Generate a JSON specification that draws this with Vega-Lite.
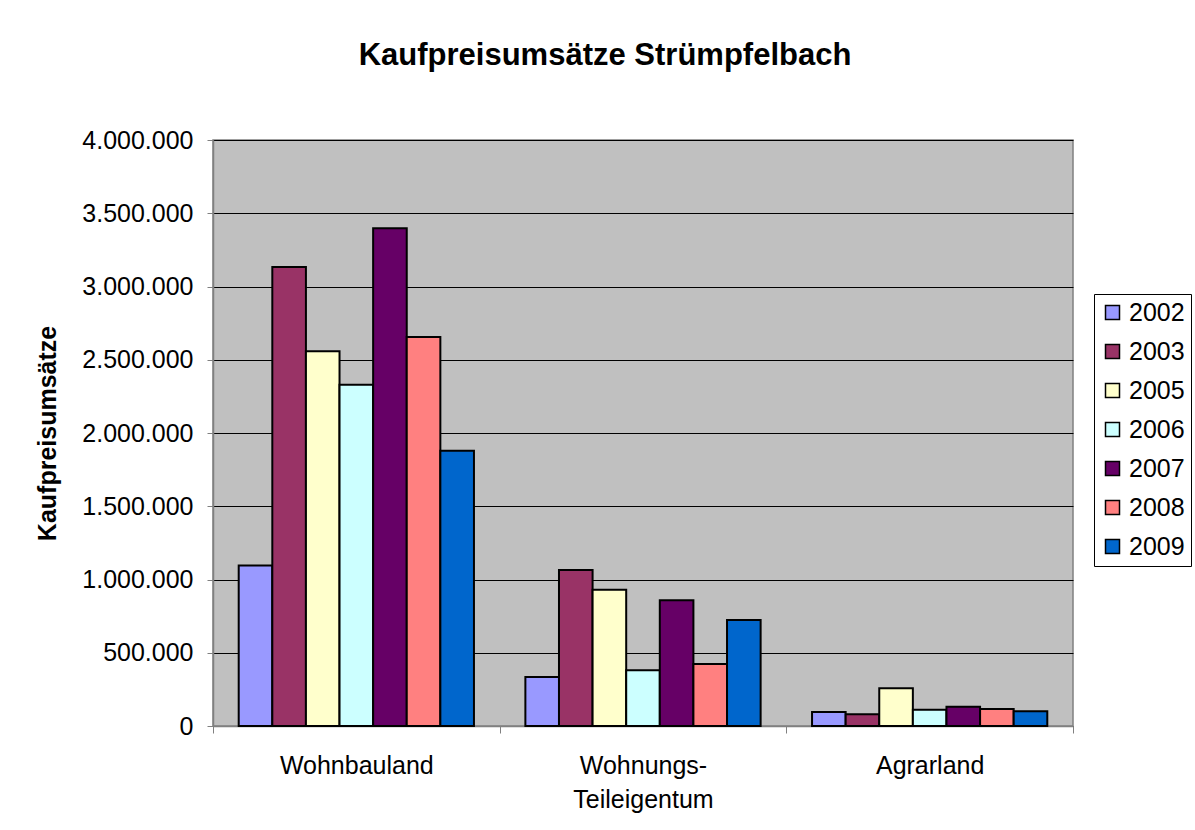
{
  "$schema": "https://vega.github.io/schema/vega-lite/v6.json",
  "autosize": "none",
  "width": 860,
  "height": 586,
  "padding": {"left": 213, "top": 140, "right": 122, "bottom": 104},
  "background": "white",
  "title": {
    "text": "Kaufpreisumsätze Strümpfelbach",
    "font": "Liberation Sans",
    "fontSize": 31,
    "fontWeight": "bold",
    "color": "black",
    "anchor": "middle",
    "frame": "group",
    "dx": -38,
    "baseline": "alphabetic",
    "offset": 32
  },
  "data": {
    "values": [
      {"category": "Wohnbauland", "year": "2002", "value": 1095000},
      {"category": "Wohnbauland", "year": "2003", "value": 3133000},
      {"category": "Wohnbauland", "year": "2005", "value": 2558000},
      {"category": "Wohnbauland", "year": "2006", "value": 2330000},
      {"category": "Wohnbauland", "year": "2007", "value": 3397000},
      {"category": "Wohnbauland", "year": "2008", "value": 2655000},
      {"category": "Wohnbauland", "year": "2009", "value": 1879000},
      {"category": "Wohnungs-Teileigentum", "year": "2002", "value": 334000},
      {"category": "Wohnungs-Teileigentum", "year": "2003", "value": 1065000},
      {"category": "Wohnungs-Teileigentum", "year": "2005", "value": 930000},
      {"category": "Wohnungs-Teileigentum", "year": "2006", "value": 380000},
      {"category": "Wohnungs-Teileigentum", "year": "2007", "value": 858000},
      {"category": "Wohnungs-Teileigentum", "year": "2008", "value": 423000},
      {"category": "Wohnungs-Teileigentum", "year": "2009", "value": 724000},
      {"category": "Agrarland", "year": "2002", "value": 96000},
      {"category": "Agrarland", "year": "2003", "value": 80000},
      {"category": "Agrarland", "year": "2005", "value": 257000},
      {"category": "Agrarland", "year": "2006", "value": 111000},
      {"category": "Agrarland", "year": "2007", "value": 132000},
      {"category": "Agrarland", "year": "2008", "value": 116000},
      {"category": "Agrarland", "year": "2009", "value": 100000}
    ]
  },
  "mark": {"type": "bar", "stroke": "black", "strokeWidth": 2},
  "encoding": {
    "x": {
      "field": "category",
      "type": "nominal",
      "sort": ["Wohnbauland", "Wohnungs-Teileigentum", "Agrarland"],
      "scale": {"paddingInner": 0, "paddingOuter": 0},
      "axis": {
        "title": null,
        "labelAngle": 0,
        "labelFont": "Liberation Sans",
        "labelFontSize": 25,
        "labelColor": "black",
        "labelLineHeight": 34,
        "labelBaseline": "top",
        "labelPadding": 20,
        "labelExpr": "datum.value == 'Wohnungs-Teileigentum' ? ['Wohnungs-', 'Teileigentum'] : datum.label",
        "tickBand": "extent",
        "tickSize": 7,
        "tickColor": "#808080",
        "domainColor": "#808080",
        "domainWidth": 1.5
      }
    },
    "xOffset": {
      "field": "year",
      "type": "nominal",
      "scale": {"paddingInner": 0, "paddingOuter": 0.765}
    },
    "y": {
      "field": "value",
      "type": "quantitative",
      "scale": {"domain": [0, 4000000], "nice": false},
      "axis": {
        "title": "Kaufpreisumsätze",
        "titleFont": "Liberation Sans",
        "titleFontSize": 25,
        "titleFontWeight": "bold",
        "titleColor": "black",
        "titleAngle": -90,
        "titleX": -166,
        "titleY": 293,
        "titleAlign": "center",
        "titleBaseline": "middle",
        "values": [0, 500000, 1000000, 1500000, 2000000, 2500000, 3000000, 3500000, 4000000],
        "format": ",d",
        "labelFont": "Liberation Sans",
        "labelFontSize": 25,
        "labelColor": "black",
        "labelPadding": 14,
        "tickSize": 6,
        "tickColor": "#808080",
        "domainColor": "#808080",
        "domainWidth": 1.5,
        "grid": true,
        "gridColor": "black",
        "gridOpacity": 1,
        "gridWidth": 1
      }
    },
    "color": {
      "field": "year",
      "type": "nominal",
      "scale": {
        "domain": ["2002", "2003", "2005", "2006", "2007", "2008", "2009"],
        "range": ["#9999FF", "#993366", "#FFFFCC", "#CCFFFF", "#660066", "#FF8080", "#0066CC"]
      },
      "legend": {
        "title": null,
        "orient": "none",
        "legendX": 881,
        "legendY": 154,
        "strokeColor": "black",
        "padding": 6,
        "symbolType": "square",
        "symbolSize": 196,
        "symbolStrokeColor": "black",
        "symbolStrokeWidth": 1.5,
        "symbolOpacity": 1,
        "labelFont": "Liberation Sans",
        "labelFontSize": 25,
        "labelColor": "black",
        "labelOffset": 4,
        "rowPadding": 13
      }
    }
  },
  "config": {
    "locale": {"number": {"decimal": ",", "thousands": ".", "grouping": [3], "currency": ["", " €"]}},
    "view": {"fill": "#C0C0C0", "stroke": "#808080", "strokeWidth": 1.5},
    "axis": {"domain": true}
  }
}
